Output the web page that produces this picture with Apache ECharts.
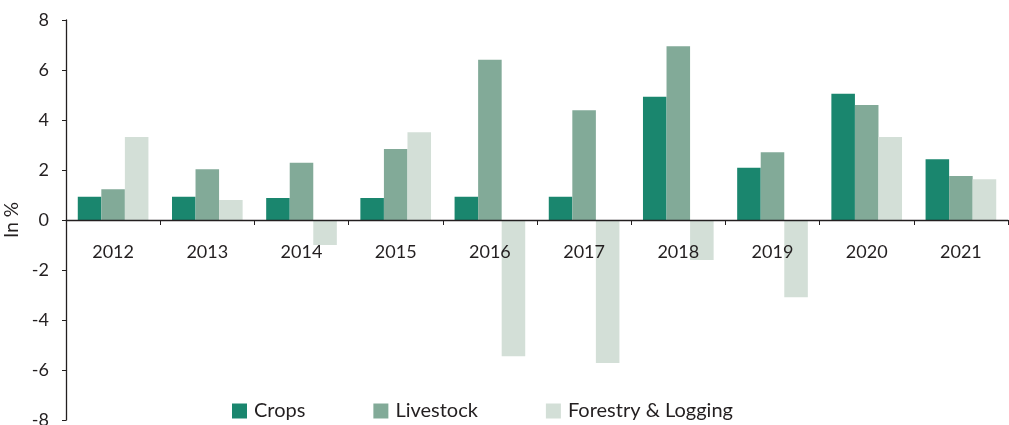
<!DOCTYPE html>
<html>
<head>
<meta charset="utf-8">
<script src="https://cdn.jsdelivr.net/npm/echarts@6/dist/echarts.min.js"></script>
<style>
  html, body { margin: 0; padding: 0; background: #fff; }
  #main { width: 1009px; height: 425px; }
</style>
</head>
<body>
<div id="main"></div>
<script>
var years = ['2012', '2013', '2014', '2015', '2016', '2017', '2018', '2019', '2020', '2021'];
var crops = [0.93, 0.93, 0.88, 0.88, 0.93, 0.93, 4.93, 2.09, 5.05, 2.43];
var livestock = [1.23, 2.03, 2.29, 2.84, 6.41, 4.39, 6.95, 2.71, 4.60, 1.76];
var forestry = [3.32, 0.80, -1.00, 3.51, -5.45, -5.72, -1.60, -3.09, 3.32, 1.63];

var chart = echarts.init(document.getElementById('main'));

var font = 'Lato, "Noto Sans", sans-serif';
var ink = '#231f20';

var option = {
    animation: false,
    textStyle: { fontFamily: font, color: ink },
    grid: {
        left: 66,
        right: 1,
        top: 20,
        bottom: 5,
        containLabel: false,
        outerBoundsMode: 'none'
    },
    legend: {
        left: 227,
        top: 396,
        icon: 'rect',
        itemWidth: 15,
        itemHeight: 15,
        itemGap: 68,
        textStyle: { fontFamily: font, fontSize: 20, color: ink, padding: [0, 0, 0, 2] },
        data: ['Crops', 'Livestock', 'Forestry & Logging']
    },
    xAxis: {
        type: 'category',
        data: years,
        offset: -200,
        z: 5,
        axisLine: { onZero: false, lineStyle: { color: ink, width: 1.3 } },
        axisTick: { show: true, length: 5, lineStyle: { color: ink } },
        axisLabel: { fontFamily: font, fontSize: 18, color: ink, margin: 23 }
    },
    yAxis: {
        type: 'value',
        min: -8,
        max: 8,
        interval: 2,
        name: 'In %',
        nameLocation: 'middle',
        nameGap: 37,
        nameTextStyle: { fontFamily: font, fontSize: 19, color: ink },
        axisLine: { show: true, lineStyle: { color: ink, width: 1.3 } },
        axisTick: { show: true, length: 4, lineStyle: { color: ink } },
        splitLine: { show: false },
        axisLabel: { fontFamily: font, fontSize: 18, color: ink, margin: 17 }
    },
    series: [{
        name: 'Crops',
        type: 'bar',
        data: crops,
        barGap: '0%',
        barCategoryGap: '25%',
        itemStyle: { color: '#1a866e' }
    }, {
        name: 'Livestock',
        type: 'bar',
        data: livestock,
        itemStyle: { color: '#82aa98' }
    }, {
        name: 'Forestry & Logging',
        type: 'bar',
        data: forestry,
        itemStyle: { color: '#d3dfd7' }
    }]
};

chart.setOption(option);
</script>
</body>
</html>
